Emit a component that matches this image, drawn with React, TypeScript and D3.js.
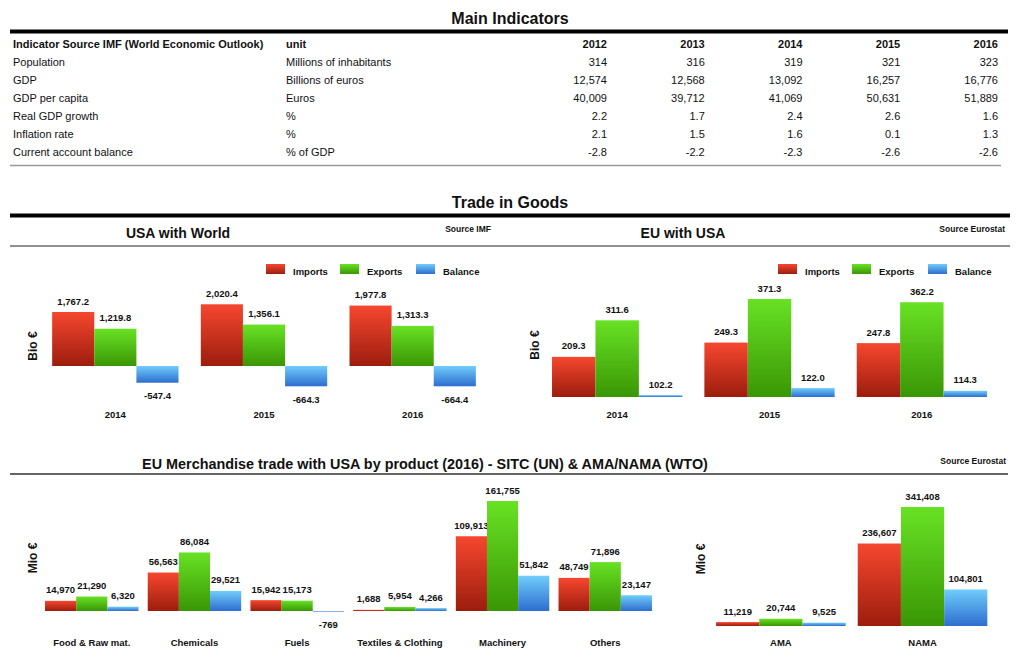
import React from 'react';
import * as d3 from 'd3';

const FONT = "'Liberation Sans', Arial, Helvetica, sans-serif";
const INK = '#111';

// ---------- Main indicators table ----------
const years = [2012, 2013, 2014, 2015, 2016];
const indicators = ['Population', 'GDP', 'GDP per capita', 'Real GDP growth', 'Inflation rate', 'Current account balance'];
const units = ['Millions of inhabitants', 'Billions of euros', 'Euros', '%', '%', '% of GDP'];
const population = [314, 316, 319, 321, 323];
const gdp = [12574, 12568, 13092, 16257, 16776];
const gdpPerCapita = [40009, 39712, 41069, 50631, 51889];
const realGdpGrowth = [2.2, 1.7, 2.4, 2.6, 1.6];
const inflationRate = [2.1, 1.5, 1.6, 0.1, 1.3];
const currentAccount = [-2.8, -2.2, -2.3, -2.6, -2.6];
const rowFormats = [',', ',', ',', '.1f', '.1f', '.1f'];

// ---------- Trade in goods ----------
const seriesNames = ['Imports', 'Exports', 'Balance'];
const tradeYears = ['2014', '2015', '2016'];
const usaWorldImports = [1767.2, 2020.4, 1977.8];
const usaWorldExports = [1219.8, 1356.1, 1313.3];
const usaWorldBalance = [-547.4, -664.3, -664.4];
const euUsaImports = [209.3, 249.3, 247.8];
const euUsaExports = [311.6, 371.3, 362.2];
const euUsaBalance = [102.2, 122.0, 114.3];

const sitcCategories = ['Food & Raw mat.', 'Chemicals', 'Fuels', 'Textiles & Clothing', 'Machinery', 'Others'];
const sitcImports = [14970, 56563, 15942, 1688, 109913, 48749];
const sitcExports = [21290, 86084, 15173, 5954, 161755, 71896];
const sitcBalance = [6320, 29521, -769, 4266, 51842, 23147];

const amaCategories = ['AMA', 'NAMA'];
const amaImports = [11219, 236607];
const amaExports = [20744, 341408];
const amaBalance = [9525, 104801];

const gradIds = ['gRed', 'gGreen', 'gBlue'];
const gradStops = [
  ['#f6472f', '#9c1d0d'],
  ['#68e224', '#3a9605'],
  ['#70cdfb', '#2e6dcf'],
];

const hy = (f: (n: number) => string) => (n: number) => f(n).replace('\u2212', '-');

type BarProps = {
  cats: string[];
  series: number[][];
  range: [number, number];
  padInner: number;
  padOuter: number;
  y: d3.ScaleLinear<number, number>;
  base: number;
  fmt: (n: number) => string;
  catY: number;
};

function GroupedBars({ cats, series, range, padInner, padOuter, y, base, fmt, catY }: BarProps) {
  const x0 = d3.scaleBand<string>().domain(cats).range(range).paddingInner(padInner).paddingOuter(padOuter);
  const x1 = d3.scaleBand<string>().domain(seriesNames).range([0, x0.bandwidth()]);
  const y0 = y(base);
  return (
    <g>
      {cats.map((c, ci) => (
        <g key={c} transform={`translate(${x0(c)},0)`}>
          {seriesNames.map((s, si) => {
            const v = series[si][ci];
            const yv = y(v);
            const top = Math.min(yv, y0);
            const h = Math.max(Math.abs(yv - y0), 0.6);
            const cx = (x1(s) as number) + x1.bandwidth() / 2;
            const pos = v >= base;
            return (
              <g key={s}>
                <rect x={x1(s)} y={top} width={x1.bandwidth()} height={h} fill={`url(#${gradIds[si]})`} />
                <text
                  x={cx}
                  y={pos ? top - 7.5 : top + h + 16.5}
                  textAnchor="middle"
                  fontSize={9.5}
                  fontWeight="bold"
                  fill={INK}
                >
                  {fmt(v)}
                </text>
              </g>
            );
          })}
          <text x={x0.bandwidth() / 2} y={catY} textAnchor="middle" fontSize={9.5} fontWeight="bold" fill={INK}>
            {c}
          </text>
        </g>
      ))}
    </g>
  );
}

function Legend({ x, y }: { x: number; y: number }) {
  const offsets = [0, 74, 150];
  return (
    <g>
      {seriesNames.map((s, i) => (
        <g key={s} transform={`translate(${x + offsets[i]},${y})`}>
          <rect x={0} y={0} width={19} height={10} fill={`url(#${gradIds[i]})`} />
          <text x={27} y={10.5} fontSize={9.5} fontWeight="bold" fill={INK}>
            {s}
          </text>
        </g>
      ))}
    </g>
  );
}

function AxisTitle({ x, y, label }: { x: number; y: number; label: string }) {
  return (
    <text transform={`translate(${x},${y}) rotate(-90)`} textAnchor="middle" fontSize={12} fontWeight="bold" fill={INK}>
      {label}
    </text>
  );
}

export default function App() {
  const tableRows = [population, gdp, gdpPerCapita, realGdpGrowth, inflationRate, currentAccount];
  const colX = d3.scalePoint<number>().domain(years).range([607, 998]);
  const rowY = d3.scalePoint<number>().domain(d3.range(7)).range([48, 156]);

  const yUsaWorld = d3.scaleLinear().domain([0, 2000]).range([366, 304.9]);
  const yEuUsa = d3.scaleLinear().domain([97, 371.3]).range([397, 299]);
  const ySitc = d3.scaleLinear().domain([0, 161755]).range([611, 501]);
  const yAma = d3.scaleLinear().domain([0, 341408]).range([626, 507]);

  const f1 = hy(d3.format(',.1f'));
  const f0 = hy(d3.format(','));

  return (
    <svg
      width={1024}
      height={658}
      style={{ position: 'absolute', left: 0, top: 0, background: '#fff' }}
      fontFamily={FONT}
    >
      <defs>
        {gradIds.map((id, i) => (
          <linearGradient key={id} id={id} x1="0" y1="0" x2="0" y2="1">
            <stop offset="0%" stopColor={gradStops[i][0]} />
            <stop offset="100%" stopColor={gradStops[i][1]} />
          </linearGradient>
        ))}
      </defs>
      <rect x={0} y={0} width={1024} height={658} fill="#fff" />

      {/* Main indicators */}
      <text x={510} y={24} textAnchor="middle" fontSize={16} fontWeight="bold" fill={INK}>
        Main Indicators
      </text>
      <rect x={10} y={29.5} width={998} height={4} fill="#000" />
      <text x={13} y={rowY(0)} fontSize={11} fontWeight="bold" fill={INK}>
        Indicator Source IMF (World Economic Outlook)
      </text>
      <text x={286} y={rowY(0)} fontSize={11} fontWeight="bold" fill={INK}>
        unit
      </text>
      {years.map((yr) => (
        <text key={yr} x={colX(yr)} y={rowY(0)} textAnchor="end" fontSize={11} fontWeight="bold" fill={INK}>
          {yr}
        </text>
      ))}
      {indicators.map((name, ri) => (
        <g key={name}>
          <text x={13} y={rowY(ri + 1)} fontSize={11} fill={INK}>
            {name}
          </text>
          <text x={286} y={rowY(ri + 1)} fontSize={11} fill={INK}>
            {units[ri]}
          </text>
          {years.map((yr, ci) => (
            <text key={yr} x={colX(yr)} y={rowY(ri + 1)} textAnchor="end" fontSize={11} fill={INK}>
              {hy(d3.format(rowFormats[ri]))(tableRows[ri][ci])}
            </text>
          ))}
        </g>
      ))}
      <line x1={10} x2={1001} y1={165.5} y2={165.5} stroke="#999" strokeWidth={1.5} />

      {/* Trade in goods */}
      <text x={510} y={207.5} textAnchor="middle" fontSize={16} fontWeight="bold" fill={INK}>
        Trade in Goods
      </text>
      <rect x={10} y={213.5} width={1000} height={4} fill="#000" />
      <text x={178} y={238} textAnchor="middle" fontSize={14} fontWeight="bold" fill={INK}>
        USA with World
      </text>
      <text x={491} y={232} textAnchor="end" fontSize={8.5} fontWeight="bold" fill={INK}>
        Source IMF
      </text>
      <text x={683} y={238} textAnchor="middle" fontSize={14} fontWeight="bold" fill={INK}>
        EU with USA
      </text>
      <text x={1005} y={232} textAnchor="end" fontSize={8.5} fontWeight="bold" fill={INK}>
        Source Eurostat
      </text>
      <line x1={10} x2={1010} y1={246} y2={246} stroke="#222" strokeWidth={1} />

      <Legend x={266} y={264} />
      <Legend x={778} y={264} />

      <AxisTitle x={36.5} y={346} label="Bio €" />
      <AxisTitle x={539} y={345} label="Bio €" />

      <GroupedBars
        cats={tradeYears}
        series={[usaWorldImports, usaWorldExports, usaWorldBalance]}
        range={[41, 487]}
        padInner={0.15}
        padOuter={0.075}
        y={yUsaWorld}
        base={0}
        fmt={f1}
        catY={417.5}
      />
      <GroupedBars
        cats={tradeYears}
        series={[euUsaImports, euUsaExports, euUsaBalance]}
        range={[540.6, 998.4]}
        padInner={0.145}
        padOuter={0.075}
        y={yEuUsa}
        base={97}
        fmt={f1}
        catY={417.5}
      />

      {/* EU merchandise trade by product */}
      <text x={425} y={469} textAnchor="middle" fontSize={14.4} fontWeight="bold" fill={INK}>
        EU Merchandise trade with USA by product (2016) - SITC (UN) &amp; AMA/NAMA (WTO)
      </text>
      <text x={1006} y={464} textAnchor="end" fontSize={8.5} fontWeight="bold" fill={INK}>
        Source Eurostat
      </text>
      <line x1={10} x2={1008} y1={474} y2={474} stroke="#333" strokeWidth={1.5} />

      <AxisTitle x={36.5} y={558} label="Mio €" />
      <AxisTitle x={704.5} y={559} label="Mio €" />

      <GroupedBars
        cats={sitcCategories}
        series={[sitcImports, sitcExports, sitcBalance]}
        range={[40.4, 656.6]}
        padInner={0.09}
        padOuter={0.045}
        y={ySitc}
        base={0}
        fmt={f0}
        catY={646}
      />
      <GroupedBars
        cats={amaCategories}
        series={[amaImports, amaExports, amaBalance]}
        range={[710.4, 993]}
        padInner={0.085}
        padOuter={0.04}
        y={yAma}
        base={0}
        fmt={f0}
        catY={646}
      />
    </svg>
  );
}
